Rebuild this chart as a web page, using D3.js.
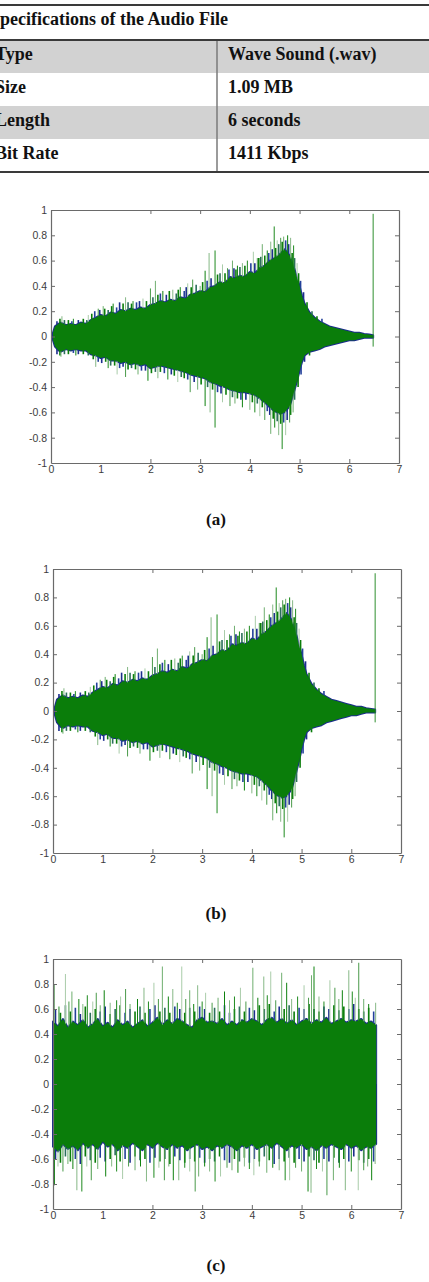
<!DOCTYPE html>
<html>
<head>
<meta charset="utf-8">
<script src="https://cdn.jsdelivr.net/npm/d3@7"></script>
<style>
  body { margin: 0; background: #fff; }
  svg { display: block; }
</style>
</head>
<body>
<div id="chart"></div>
<script>
// table text
var specTitle = "Specifications of the Audio File";
var specLabels = ["Type", "Size", "Length", "Bit Rate"];
var specValues = ["Wave Sound (.wav)", "1.09 MB", "6 seconds", "1411 Kbps"];

// axis ticks (same for all three plots)
var xTicks = [0, 1, 2, 3, 4, 5, 6, 7];
var yTicks = [-1, -0.8, -0.6, -0.4, -0.2, 0, 0.2, 0.4, 0.6, 0.8, 1];

// original / decrypted audio (plots a and b): envelope of the dense part
var waveTimes = [0.04, 0.08, 0.15, 0.2, 0.3, 0.4, 0.5, 0.6, 0.7, 0.8, 0.9, 1.0, 1.1, 1.2, 1.3, 1.4, 1.5, 1.6, 1.7, 1.8, 1.9,
  2.0, 2.1, 2.2, 2.3, 2.4, 2.5, 2.6, 2.7, 2.8, 2.9, 3.0, 3.1, 3.2, 3.3, 3.4, 3.5, 3.6, 3.7, 3.8, 3.9,
  4.0, 4.1, 4.2, 4.3, 4.4, 4.5, 4.6, 4.7, 4.8, 4.85, 4.9, 4.95, 5.0, 5.05, 5.1, 5.2, 5.3, 5.4, 5.5, 5.6,
  5.7, 5.8, 5.9, 6.0, 6.1, 6.2, 6.3, 6.4, 6.48];
var waveUpper = [0.03, 0.08, 0.10, 0.11, 0.09, 0.10, 0.09, 0.11, 0.10, 0.13, 0.15, 0.17, 0.16, 0.19, 0.18, 0.21, 0.20, 0.22, 0.21, 0.23, 0.22,
  0.25, 0.26, 0.28, 0.27, 0.29, 0.28, 0.31, 0.30, 0.33, 0.34, 0.36, 0.35, 0.39, 0.40, 0.43, 0.42, 0.47, 0.46, 0.48, 0.47,
  0.51, 0.50, 0.54, 0.56, 0.60, 0.62, 0.65, 0.69, 0.64, 0.58, 0.53, 0.46, 0.40, 0.32, 0.26, 0.19, 0.15, 0.12, 0.10, 0.08,
  0.07, 0.06, 0.05, 0.04, 0.03, 0.03, 0.02, 0.015, 0.01];
var waveLower = [-0.03, -0.08, -0.11, -0.12, -0.10, -0.11, -0.10, -0.11, -0.11, -0.14, -0.15, -0.17, -0.16, -0.19, -0.19, -0.21, -0.20, -0.22, -0.21, -0.23, -0.22,
  -0.25, -0.24, -0.23, -0.24, -0.25, -0.26, -0.27, -0.28, -0.30, -0.31, -0.32, -0.33, -0.36, -0.37, -0.39, -0.40, -0.42, -0.43, -0.44, -0.44,
  -0.45, -0.46, -0.49, -0.52, -0.56, -0.59, -0.61, -0.60, -0.55, -0.49, -0.42, -0.35, -0.27, -0.20, -0.15, -0.12, -0.11, -0.10, -0.08, -0.07,
  -0.06, -0.05, -0.04, -0.03, -0.03, -0.02, -0.01, -0.01, -0.01];
// tall peaks sticking out of the envelope: [time, amplitude]
var wavePeaks = [[0.22, 0.16], [0.45, 0.14], [0.75, 0.17], [0.95, 0.22], [1.05, 0.24], [1.25, 0.26], [1.5, 0.31], [1.65, 0.28],
  [1.85, 0.30], [2.0, 0.38], [2.1, 0.44], [2.25, 0.36], [2.45, 0.37], [2.6, 0.39], [2.75, 0.42], [2.85, 0.45], [3.0, 0.40],
  [3.1, 0.52], [3.18, 0.66], [3.3, 0.68], [3.45, 0.57], [3.55, 0.54], [3.65, 0.60], [3.75, 0.56], [3.85, 0.58], [3.95, 0.60],
  [4.07, 0.67], [4.15, 0.62], [4.25, 0.73], [4.35, 0.68], [4.42, 0.75], [4.49, 0.87], [4.55, 0.76], [4.62, 0.78], [4.68, 0.79],
  [4.76, 0.80], [4.82, 0.78], [4.88, 0.72], [4.95, 0.58], [6.48, 0.97],
  [0.2, -0.16], [0.5, -0.15], [0.9, -0.24], [1.15, -0.25], [1.33, -0.30], [1.5, -0.32], [1.75, -0.30], [1.95, -0.35],
  [2.15, -0.33], [2.35, -0.34], [2.55, -0.36], [2.8, -0.44], [2.95, -0.42], [3.1, -0.55], [3.2, -0.60], [3.3, -0.72],
  [3.45, -0.52], [3.6, -0.55], [3.7, -0.53], [3.85, -0.56], [4.0, -0.58], [4.1, -0.60], [4.2, -0.63], [4.3, -0.66],
  [4.42, -0.77], [4.5, -0.72], [4.58, -0.78], [4.65, -0.89], [4.72, -0.78], [4.8, -0.68], [4.87, -0.60], [6.48, -0.08]];
// short peaks that make the ragged edge
var waveEdgePeaks = [[0.12, 0.12], [0.18, 0.14], [0.27, 0.13], [0.35, 0.13], [0.42, 0.12], [0.55, 0.13], [0.65, 0.14], [0.72, 0.13],
  [0.82, 0.18], [0.88, 0.20], [0.98, 0.21], [1.08, 0.22], [1.15, 0.21], [1.22, 0.24], [1.32, 0.23], [1.38, 0.27], [1.45, 0.26],
  [1.55, 0.27], [1.62, 0.26], [1.72, 0.27], [1.78, 0.28], [1.92, 0.28], [2.05, 0.31], [2.15, 0.33], [2.2, 0.34], [2.32, 0.33],
  [2.38, 0.36], [2.52, 0.34], [2.56, 0.37], [2.68, 0.36], [2.72, 0.39], [2.82, 0.39], [2.92, 0.41], [3.05, 0.43], [3.14, 0.44],
  [3.22, 0.46], [3.35, 0.49], [3.4, 0.50], [3.5, 0.50], [3.58, 0.53], [3.68, 0.54], [3.72, 0.53], [3.8, 0.55], [3.9, 0.56],
  [4.02, 0.58], [4.1, 0.58], [4.18, 0.62], [4.22, 0.63], [4.3, 0.64], [4.38, 0.66], [4.45, 0.69], [4.52, 0.70], [4.58, 0.73],
  [4.65, 0.75], [4.72, 0.76], [4.78, 0.73], [4.85, 0.66], [4.9, 0.62], [4.98, 0.50], [5.02, 0.44], [5.08, 0.35], [5.15, 0.27],
  [5.25, 0.20], [5.35, 0.16], [5.45, 0.14],
  [0.12, -0.14], [0.18, -0.15], [0.27, -0.14], [0.35, -0.14], [0.45, -0.13], [0.55, -0.14], [0.65, -0.14], [0.75, -0.15],
  [0.85, -0.18], [0.95, -0.20], [1.02, -0.21], [1.1, -0.20], [1.2, -0.23], [1.28, -0.23], [1.38, -0.25], [1.45, -0.24],
  [1.55, -0.26], [1.62, -0.25], [1.7, -0.26], [1.82, -0.27], [1.9, -0.27], [2.02, -0.29], [2.1, -0.28], [2.2, -0.28],
  [2.28, -0.29], [2.42, -0.30], [2.48, -0.31], [2.62, -0.32], [2.68, -0.33], [2.75, -0.34], [2.88, -0.36], [3.02, -0.38],
  [3.15, -0.40], [3.25, -0.42], [3.35, -0.44], [3.42, -0.45], [3.52, -0.46], [3.65, -0.48], [3.75, -0.49], [3.82, -0.50],
  [3.92, -0.50], [4.05, -0.52], [4.15, -0.53], [4.25, -0.56], [4.35, -0.59], [4.4, -0.62], [4.47, -0.65], [4.55, -0.67],
  [4.62, -0.69], [4.68, -0.68], [4.75, -0.66], [4.82, -0.62], [4.9, -0.50], [4.97, -0.40], [5.03, -0.30], [5.1, -0.20], [5.2, -0.15]];

// encrypted audio (plot c)
var noiseTimes = [0.0, 0.1, 0.2, 0.3, 0.4, 0.5, 0.6, 0.7, 0.8, 0.9, 1.0, 1.1, 1.2, 1.3, 1.4, 1.5, 1.6, 1.7, 1.8, 1.9,
  2.0, 2.1, 2.2, 2.3, 2.4, 2.5, 2.6, 2.7, 2.8, 2.9, 3.0, 3.1, 3.2, 3.3, 3.4, 3.5, 3.6, 3.7, 3.8, 3.9,
  4.0, 4.1, 4.2, 4.3, 4.4, 4.5, 4.6, 4.7, 4.8, 4.9, 5.0, 5.1, 5.2, 5.3, 5.4, 5.5, 5.6, 5.7, 5.8, 5.9,
  6.0, 6.1, 6.2, 6.3, 6.4, 6.5];
var noiseUpper = [0.50, 0.46, 0.52, 0.45, 0.50, 0.47, 0.51, 0.45, 0.48, 0.52, 0.46, 0.49, 0.45, 0.51, 0.47, 0.50, 0.45, 0.48, 0.51, 0.46,
  0.49, 0.53, 0.47, 0.51, 0.48, 0.52, 0.50, 0.47, 0.45, 0.51, 0.53, 0.49, 0.50, 0.48, 0.52, 0.47, 0.50, 0.47, 0.51, 0.49,
  0.52, 0.50, 0.47, 0.51, 0.53, 0.49, 0.52, 0.48, 0.51, 0.47, 0.50, 0.52, 0.48, 0.51, 0.49, 0.53, 0.48, 0.50, 0.52, 0.49,
  0.51, 0.50, 0.52, 0.48, 0.50, 0.47];
var noiseLower = [-0.50, -0.54, -0.48, -0.52, -0.49, -0.53, -0.47, -0.51, -0.48, -0.52, -0.46, -0.50, -0.48, -0.53, -0.49, -0.51, -0.47, -0.50, -0.53, -0.48,
  -0.51, -0.47, -0.50, -0.52, -0.48, -0.51, -0.49, -0.53, -0.50, -0.48, -0.52, -0.50, -0.53, -0.49, -0.51, -0.48, -0.50, -0.53, -0.49, -0.51,
  -0.48, -0.52, -0.50, -0.48, -0.51, -0.47, -0.50, -0.53, -0.49, -0.51, -0.48, -0.52, -0.50, -0.53, -0.49, -0.51, -0.48, -0.50, -0.52, -0.48,
  -0.51, -0.49, -0.53, -0.50, -0.51, -0.48];
var noisePeaks = [[0.03, 0.80], [0.12, 0.62], [0.25, 0.88], [0.32, 0.66], [0.38, 0.74], [0.52, 0.68], [0.6, 0.64], [0.69, 0.71],
  [0.8, 0.66], [0.87, 0.73], [0.95, 0.63], [1.03, 0.75], [1.15, 0.65], [1.28, 0.67], [1.36, 0.70], [1.46, 0.76], [1.55, 0.64],
  [1.7, 0.68], [1.83, 0.77], [1.92, 0.66], [2.03, 0.81], [2.12, 0.68], [2.2, 0.94], [2.32, 0.70], [2.41, 0.76], [2.5, 0.65],
  [2.59, 0.94], [2.67, 0.68], [2.75, 0.75], [2.83, 0.64], [2.91, 0.79], [3.0, 0.66], [3.07, 0.73], [3.2, 0.65], [3.32, 0.69],
  [3.45, 0.74], [3.55, 0.67], [3.65, 0.70], [3.77, 0.77], [3.88, 0.66], [4.02, 0.93], [4.12, 0.69], [4.24, 0.86], [4.31, 0.71],
  [4.38, 0.90], [4.48, 0.67], [4.6, 0.89], [4.7, 0.81], [4.8, 0.68], [4.92, 0.70], [5.05, 0.79], [5.14, 0.69], [5.2, 0.87],
  [5.25, 0.94], [5.35, 0.70], [5.45, 0.66], [5.57, 0.83], [5.67, 0.77], [5.75, 0.68], [5.82, 0.75], [5.95, 0.91], [6.02, 0.74],
  [6.08, 0.69], [6.15, 0.97], [6.25, 0.68], [6.35, 0.64], [6.49, 0.65],
  [0.03, -0.81], [0.1, -0.66], [0.2, -0.70], [0.3, -0.64], [0.4, -0.68], [0.48, -0.85], [0.58, -0.86], [0.68, -0.66],
  [0.77, -0.77], [0.9, -0.68], [1.06, -0.74], [1.18, -0.66], [1.28, -0.70], [1.4, -0.76], [1.52, -0.66], [1.65, -0.69],
  [1.76, -0.66], [1.88, -0.78], [2.03, -0.75], [2.13, -0.67], [2.24, -0.77], [2.33, -0.66], [2.42, -0.77], [2.53, -0.77],
  [2.65, -0.67], [2.75, -0.70], [2.86, -0.86], [2.93, -0.74], [3.05, -0.66], [3.15, -0.70], [3.26, -0.78], [3.37, -0.74],
  [3.5, -0.67], [3.6, -0.69], [3.72, -0.71], [3.85, -0.66], [3.95, -0.68], [4.04, -0.73], [4.15, -0.66], [4.3, -0.71],
  [4.42, -0.67], [4.55, -0.69], [4.67, -0.77], [4.76, -0.77], [4.88, -0.67], [5.0, -0.70], [5.13, -0.86], [5.19, -0.87],
  [5.3, -0.68], [5.42, -0.70], [5.51, -0.89], [5.64, -0.77], [5.76, -0.67], [5.88, -0.85], [6.0, -0.70], [6.14, -0.85],
  [6.25, -0.69], [6.33, -0.66], [6.41, -0.77], [6.48, -0.64]];
var noiseEdgePeaks = [[0.05, 0.60], [0.15, 0.57], [0.25, 0.63], [0.35, 0.58], [0.45, 0.61], [0.55, 0.56], [0.65, 0.62], [0.75, 0.57],
  [0.85, 0.60], [0.95, 0.58], [1.05, 0.62], [1.15, 0.56], [1.25, 0.60], [1.35, 0.63], [1.45, 0.57], [1.55, 0.60], [1.65, 0.58],
  [1.75, 0.62], [1.85, 0.57], [1.95, 0.60], [2.05, 0.63], [2.15, 0.58], [2.25, 0.61], [2.35, 0.57], [2.45, 0.62], [2.55, 0.60],
  [2.65, 0.57], [2.75, 0.61], [2.85, 0.58], [2.95, 0.62], [3.05, 0.60], [3.15, 0.57], [3.25, 0.61], [3.35, 0.58], [3.45, 0.63],
  [3.55, 0.57], [3.65, 0.60], [3.75, 0.62], [3.85, 0.58], [3.95, 0.61], [4.05, 0.59], [4.15, 0.63], [4.25, 0.60], [4.35, 0.64],
  [4.45, 0.58], [4.55, 0.62], [4.65, 0.60], [4.75, 0.63], [4.85, 0.58], [4.95, 0.61], [5.05, 0.60], [5.15, 0.64], [5.25, 0.60],
  [5.35, 0.58], [5.45, 0.62], [5.55, 0.60], [5.65, 0.63], [5.75, 0.59], [5.85, 0.62], [5.95, 0.60], [6.05, 0.64], [6.15, 0.60],
  [6.25, 0.58], [6.35, 0.61], [6.45, 0.58],
  [0.05, -0.60], [0.15, -0.63], [0.25, -0.58], [0.35, -0.62], [0.45, -0.60], [0.55, -0.64], [0.65, -0.58], [0.75, -0.61],
  [0.85, -0.63], [0.95, -0.59], [1.05, -0.62], [1.15, -0.60], [1.25, -0.57], [1.35, -0.62], [1.45, -0.60], [1.55, -0.63],
  [1.65, -0.58], [1.75, -0.61], [1.85, -0.60], [1.95, -0.63], [2.05, -0.59], [2.15, -0.62], [2.25, -0.60], [2.35, -0.64],
  [2.45, -0.58], [2.55, -0.61], [2.65, -0.63], [2.75, -0.60], [2.85, -0.62], [2.95, -0.59], [3.05, -0.63], [3.15, -0.60],
  [3.25, -0.62], [3.35, -0.58], [3.45, -0.61], [3.55, -0.63], [3.65, -0.60], [3.75, -0.62], [3.85, -0.59], [3.95, -0.63],
  [4.05, -0.60], [4.15, -0.62], [4.25, -0.58], [4.35, -0.61], [4.45, -0.64], [4.55, -0.60], [4.65, -0.62], [4.75, -0.59],
  [4.85, -0.63], [4.95, -0.60], [5.05, -0.62], [5.15, -0.58], [5.25, -0.61], [5.35, -0.63], [5.45, -0.60], [5.55, -0.62],
  [5.65, -0.59], [5.75, -0.63], [5.85, -0.60], [5.95, -0.62], [6.05, -0.58], [6.15, -0.61], [6.25, -0.63], [6.35, -0.60], [6.45, -0.62]];

var width = 429, height = 1282;
var svg = d3.select("#chart").append("svg")
  .attr("width", width)
  .attr("height", height)
  .style("background", "#fff");

// ---- table ----
var rowTop = 40, rowH = 33, splitX = 217;
var serif = "Liberation Serif, Times New Roman, serif";
var table = svg.append("g");
table.selectAll("rect.row")
  .data(specLabels)
  .enter().append("rect")
  .attr("class", "row")
  .attr("x", 0)
  .attr("y", function(d, i) { return rowTop + i * rowH; })
  .attr("width", width)
  .attr("height", rowH)
  .attr("fill", function(d, i) { return i % 2 == 0 ? "#d2d2d2" : "#fff"; });

table.append("line").attr("x1", splitX).attr("x2", splitX)
  .attr("y1", rowTop).attr("y2", rowTop + rowH * specLabels.length)
  .attr("stroke", "#7a7a7a").attr("stroke-width", 1.5);

[5, rowTop, rowTop + rowH * specLabels.length].forEach(function(yy) {
  table.append("line").attr("x1", 0).attr("x2", width)
    .attr("y1", yy).attr("y2", yy)
    .attr("stroke", "#3a3a3a").attr("stroke-width", 2);
});

table.append("text")
  .attr("x", -10).attr("y", 25)
  .attr("font-family", serif)
  .attr("font-weight", "bold").attr("font-size", 18)
  .attr("fill", "#111")
  .text(specTitle);

table.selectAll("text.lbl")
  .data(specLabels)
  .enter().append("text")
  .attr("class", "lbl")
  .attr("x", -5)
  .attr("y", function(d, i) { return rowTop + i * rowH + 19.5; })
  .attr("font-family", serif)
  .attr("font-weight", "bold").attr("font-size", 18)
  .attr("fill", "#111")
  .text(function(d) { return d; });

table.selectAll("text.val")
  .data(specValues)
  .enter().append("text")
  .attr("class", "val")
  .attr("x", 228)
  .attr("y", function(d, i) { return rowTop + i * rowH + 19.5; })
  .attr("font-family", serif)
  .attr("font-weight", "bold").attr("font-size", 18)
  .attr("fill", "#111")
  .text(function(d) { return d; });

// ---- waveform plots ----
var greenShades = ["#86b886", "#1f8a1f", "#a9cca9", "#4a9a4a", "#6fae6f", "#0f820f"];
var edgeShades = ["#1b2d8c", "#0a7d0a", "#2b6f5a", "#0a7d0a", "#23409a"];

function drawPanel(p) {
  var x = d3.scaleLinear().domain([0, 7]).range([p.left, p.right]);
  var y = d3.scaleLinear().domain([-1, 1]).range([p.bottom, p.top]);
  var g = svg.append("g");

  var env = p.times.map(function(t, i) { return {t: t, hi: p.upper[i], lo: p.lower[i]}; });
  var area = d3.area()
    .x(function(d) { return x(d.t); })
    .y0(function(d) { return y(d.lo); })
    .y1(function(d) { return y(d.hi); });

  // blue channel shows as a thin rim round the green one
  g.append("path").attr("d", area(env))
    .attr("fill", "#1b2d8c").attr("stroke", "#1b2d8c").attr("stroke-width", 2)
    .attr("stroke-linejoin", "round");

  g.selectAll("line.edge").data(p.edgePeaks).enter().append("line")
    .attr("class", "edge")
    .attr("x1", function(d) { return x(d[0]); }).attr("x2", function(d) { return x(d[0]); })
    .attr("y1", y(0)).attr("y2", function(d) { return y(d[1]); })
    .attr("stroke", function(d, i) { return edgeShades[i % edgeShades.length]; })
    .attr("stroke-width", 1.6);

  g.selectAll("line.pk").data(p.peaks).enter().append("line")
    .attr("class", "pk")
    .attr("x1", function(d) { return x(d[0]); }).attr("x2", function(d) { return x(d[0]); })
    .attr("y1", y(0)).attr("y2", function(d) { return y(d[1]); })
    .attr("stroke", function(d, i) { return d[0] > 6.45 && p.times[0] > 0 ? "#2f8f2f" : greenShades[i % greenShades.length]; })
    .attr("stroke-width", 1);

  g.append("path").attr("d", area(env))
    .attr("fill", "#0a7d0a");

  // axes box with ticks pointing inward
  var fmt = function(d) { return String(d); };
  var axisColor = "#6a6a6a";
  var left = g.append("g").attr("transform", "translate(" + p.left + ",0)")
    .call(d3.axisLeft(y).tickValues(yTicks).tickFormat(fmt).tickSizeInner(-4).tickSizeOuter(0).tickPadding(4));
  var right = g.append("g").attr("transform", "translate(" + p.right + ",0)")
    .call(d3.axisRight(y).tickValues(yTicks).tickFormat("").tickSizeInner(-4).tickSizeOuter(0));
  var top = g.append("g").attr("transform", "translate(0," + p.top + ")")
    .call(d3.axisTop(x).tickValues(xTicks).tickFormat("").tickSizeInner(-4).tickSizeOuter(0));
  var bottom = g.append("g").attr("transform", "translate(0," + p.bottom + ")")
    .call(d3.axisBottom(x).tickValues(xTicks).tickFormat(fmt).tickSizeInner(-4).tickSizeOuter(0).tickPadding(3));

  [left, right, top, bottom].forEach(function(a) {
    a.selectAll("path.domain").attr("stroke", axisColor).attr("stroke-width", 1.2);
    a.selectAll(".tick line").attr("stroke", axisColor);
    a.selectAll(".tick line").filter(function(d) { return d == -1 || d == 1 || d == 0 && a === bottom || d == 7; })
      .attr("stroke", "none");
    a.selectAll("text")
      .attr("font-family", "Liberation Sans, Arial, sans-serif")
      .attr("font-size", 10.5)
      .attr("fill", "#3c3c3c");
  });

  svg.append("text")
    .attr("x", 216).attr("y", p.capY)
    .attr("text-anchor", "middle")
    .attr("font-family", serif)
    .attr("font-weight", "bold").attr("font-size", 17)
    .attr("fill", "#111")
    .text(p.caption);
}

drawPanel({left: 51, right: 399, top: 210, bottom: 463, capY: 525, caption: "(a)",
  times: waveTimes, upper: waveUpper, lower: waveLower, peaks: wavePeaks, edgePeaks: waveEdgePeaks});
drawPanel({left: 53, right: 401, top: 569, bottom: 853, capY: 919, caption: "(b)",
  times: waveTimes, upper: waveUpper, lower: waveLower, peaks: wavePeaks, edgePeaks: waveEdgePeaks});
drawPanel({left: 53, right: 401, top: 959, bottom: 1209, capY: 1271, caption: "(c)",
  times: noiseTimes, upper: noiseUpper, lower: noiseLower, peaks: noisePeaks, edgePeaks: noiseEdgePeaks});
</script>
</body>
</html>
